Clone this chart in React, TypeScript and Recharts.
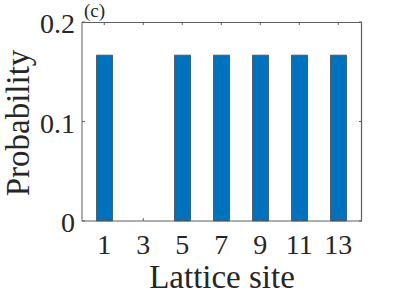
import { ComposedChart, Bar, XAxis, YAxis, Label, ReferenceLine } from "recharts";

const sites = [1, 2, 3, 4, 5, 6, 7, 8, 9, 10, 11, 12, 13];
const probabilities = [0.1667, 0, 0, 0, 0.1667, 0, 0.1667, 0, 0.1667, 0, 0.1667, 0, 0.1667];
const yTicks = [0, 0.1, 0.2];
const yTickLabels = ["0", "0.1", "0.2"];

const chartData = sites.map((site, i) => ({ site, probability: probabilities[i] }));

const FONT = "'Liberation Serif', 'Times New Roman', serif";
const AXIS = "#5f5f5f";
const TEXT = "#262626";
const W = 399;
const H = 299;
const PLOT_LEFT = 82;
const PLOT_TOP = 22;
const PLOT_RIGHT = 362;
const X_AXIS_H = 78;
const PLOT_BOTTOM = H - X_AXIS_H;

// MATLAB-style box: inward ticks on all four sides
function BottomTick({ x, y, payload }: any) {
  return (
    <g>
      <line x1={x} x2={x} y1={y} y2={y - 3} stroke={AXIS} strokeWidth={1} />
      <line x1={x} x2={x} y1={PLOT_TOP} y2={PLOT_TOP + 3} stroke={AXIS} strokeWidth={1} />
      <text x={x} y={y + 33} textAnchor="middle" fontSize={28} fontFamily={FONT} fill={TEXT}>
        {payload.value}
      </text>
    </g>
  );
}

function LeftTick({ x, y, payload }: any) {
  const idx = yTicks.indexOf(payload.value);
  return (
    <g>
      <line x1={x} x2={x + 3} y1={y} y2={y} stroke={AXIS} strokeWidth={1} />
      <line x1={PLOT_RIGHT} x2={PLOT_RIGHT - 3} y1={y} y2={y} stroke={AXIS} strokeWidth={1} />
      <text x={x - 7} y={y + 11} textAnchor="end" fontSize={28} fontFamily={FONT} fill={TEXT}>
        {idx >= 0 ? yTickLabels[idx] : payload.value}
      </text>
    </g>
  );
}

// top and right edges of the axes box
function BoxEdge() {
  return (
    <path
      d={`M${PLOT_LEFT} ${PLOT_TOP + 0.5} H${PLOT_RIGHT - 0.5} V${PLOT_BOTTOM}`}
      fill="none"
      stroke={AXIS}
      strokeWidth={1.2}
    />
  );
}

export default function App() {
  return (
    <div style={{ position: "absolute", left: 0, top: 0, width: W, height: H }}>
      <ComposedChart
        width={W}
        height={H}
        data={chartData}
        margin={{ top: PLOT_TOP, right: W - PLOT_RIGHT, bottom: 0, left: 0 }}
      >
        <XAxis
          dataKey="site"
          xAxisId="bottom"
          height={X_AXIS_H}
          interval={1}
          padding={{ left: 12.5, right: 14 }}
          tickSize={0}
          tickMargin={0}
          tickLine={false}
          axisLine={{ stroke: AXIS }}
          tick={<BottomTick />}
        >
          <Label
            content={() => (
              <text x={222} y={288} textAnchor="middle" fontSize={33} fontFamily={FONT} fill={TEXT}>
                Lattice site
              </text>
            )}
          />
        </XAxis>
        <YAxis
          yAxisId="left"
          width={PLOT_LEFT}
          domain={[0, 0.2]}
          ticks={yTicks}
          tickSize={0}
          tickMargin={0}
          tickLine={false}
          axisLine={{ stroke: AXIS }}
          tick={<LeftTick />}
        >
          <Label
            content={() => (
              <g>
                <text
                  x={29}
                  y={123}
                  transform="rotate(-90 29 123)"
                  textAnchor="middle"
                  fontSize={33}
                  fontFamily={FONT}
                  fill={TEXT}
                >
                  Probability
                </text>
                <text x={84} y={17} fontSize={19} fontFamily={FONT} fill={TEXT}>
                  (c)
                </text>
              </g>
            )}
          />
        </YAxis>
        <ReferenceLine
          xAxisId="bottom"
          yAxisId="left"
          y={0.2}
          stroke={AXIS}
          strokeWidth={1.2}
          ifOverflow="extendDomain"
          shape={<BoxEdge />}
        />
        <Bar
          dataKey="probability"
          xAxisId="bottom"
          yAxisId="left"
          barSize={16}
          fill="#0072BD"
          stroke="#1e2a36"
          strokeWidth={0.6}
          isAnimationActive={false}
        />
      </ComposedChart>
    </div>
  );
}
